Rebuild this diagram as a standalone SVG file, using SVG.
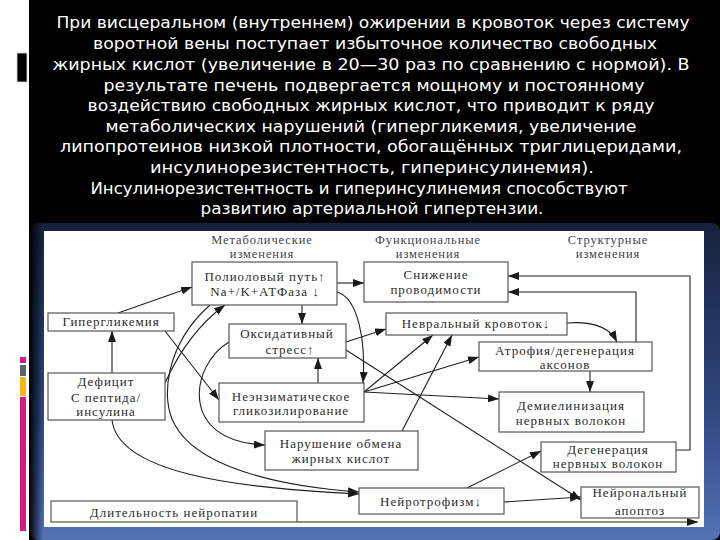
<svg xmlns="http://www.w3.org/2000/svg" width="720" height="540" viewBox="0 0 720 540">
<defs>
<linearGradient id="frameG" x1="0" y1="0" x2="0" y2="1">
<stop offset="0" stop-color="#16213d"/>
<stop offset="0.6" stop-color="#2f4880"/>
<stop offset="1" stop-color="#5272b4"/>
</linearGradient>
<linearGradient id="leftShade" x1="0" y1="0" x2="1" y2="0">
<stop offset="0" stop-color="#000" stop-opacity="1"/>
<stop offset="1" stop-color="#000" stop-opacity="0"/>
</linearGradient>
<marker id="ah" viewBox="0 0 11 8" refX="11" refY="4" markerWidth="11" markerHeight="8" markerUnits="userSpaceOnUse" orient="auto">
<path d="M0,0 L11,4 L0,8 Z" fill="#1a1a1a"/>
</marker>
<style>
.top{font-family:"DejaVu Sans","Open Sans",sans-serif;font-size:16px;fill:#fff;text-anchor:middle}
.box{fill:#fff;stroke:#555;stroke-width:1.2}
.t{font-family:"Liberation Serif","Times New Roman",serif;font-size:13px;fill:#2b2b2b;text-anchor:middle;letter-spacing:1px}
.h{font-family:"Liberation Serif","Times New Roman",serif;font-size:12.5px;fill:#444;text-anchor:middle;letter-spacing:0.9px}
.c{fill:none;stroke:#1f1f1f;stroke-width:1.1}
.a{marker-end:url(#ah)}
</style>
</defs>
<rect x="0" y="0" width="720" height="540" fill="#fff"/>
<rect x="29" y="0" width="691" height="540" fill="#000"/>
<rect x="17" y="53" width="10" height="29" fill="#000" stroke="#d8d8d8" stroke-width="0.8"/>
<rect x="20" y="357" width="6" height="6" fill="#d81b7a"/>
<rect x="20" y="365" width="6" height="11" fill="#5a6470"/>
<rect x="20" y="377" width="6" height="19" fill="#f5b81c"/>
<rect x="20" y="397" width="6" height="134" fill="#d81b7a"/>

<g id="top-text">
<text class="top" x="373" y="28" textLength="633" lengthAdjust="spacingAndGlyphs">При висцеральном (внутреннем) ожирении в кровоток через систему</text>
<text class="top" x="375" y="49" textLength="564" lengthAdjust="spacingAndGlyphs">воротной вены поступает избыточное количество свободных</text>
<text class="top" x="371" y="70" textLength="637" lengthAdjust="spacingAndGlyphs">жирных кислот (увеличение в 20—30 раз по сравнению с нормой). В</text>
<text class="top" x="374" y="91" textLength="541" lengthAdjust="spacingAndGlyphs">результате печень подвергается мощному и постоянному</text>
<text class="top" x="371" y="111" textLength="567" lengthAdjust="spacingAndGlyphs">воздействию свободных жирных кислот, что приводит к ряду</text>
<text class="top" x="371" y="132" textLength="531" lengthAdjust="spacingAndGlyphs">метаболических нарушений (гипергликемия, увеличение</text>
<text class="top" x="371" y="152" textLength="622" lengthAdjust="spacingAndGlyphs">липопротеинов низкой плотности, обогащённых триглицеридами,</text>
<text class="top" x="372" y="173" textLength="444" lengthAdjust="spacingAndGlyphs">инсулинорезистентность, гиперинсулинемия).</text>
<text class="top" x="359" y="194" textLength="537" lengthAdjust="spacingAndGlyphs">Инсулинорезистентность и гиперинсулинемия способствуют</text>
<text class="top" x="372" y="214" textLength="343" lengthAdjust="spacingAndGlyphs">развитию артериальной гипертензии.</text>
</g>

<g id="frame">
<rect x="30" y="223" width="690" height="317" rx="8" fill="url(#frameG)"/>
<rect x="29" y="223" width="14" height="317" fill="url(#leftShade)"/>
<rect x="44" y="231" width="660" height="296" fill="#fff"/>
</g>

<g id="headers">
<text class="h" x="262" y="244">Метаболические</text>
<text class="h" x="262" y="258">изменения</text>
<text class="h" x="428" y="244">Функциональные</text>
<text class="h" x="428" y="258">изменения</text>
<text class="h" x="608" y="244">Структурные</text>
<text class="h" x="608" y="258">изменения</text>
</g>

<g id="connectors">
<path class="c a" d="M118,313 L192,287"/>
<path class="c a" d="M337,283 L364,283"/>
<path class="c a" d="M302,305 L302,324"/>
<path class="c a" d="M112,373 L112,331"/>
<path class="c a" d="M165,383 Q188,332 225,305"/>
<path class="c a" d="M337,292 C358,298 366,340 363,383"/>
<path class="c a" d="M346,342 L386,329"/>
<path class="c a" d="M346,350 L581,500"/>
<path class="c a" d="M318,383 L318,358"/>
<path class="c a" d="M165,331 L219,400"/>
<path class="c a" d="M364,392 L433,335"/>
<path class="c a" d="M364,392 L479,357"/>
<path class="c a" d="M364,392 L499,399"/>
<path class="c a" d="M402,431 L452,335"/>
<path class="c a" d="M567,323 Q606,320 617,342"/>
<path class="c a" d="M636,342 L636,292 L508,292"/>
<path class="c a" d="M676,450 L690,450 L690,276 L508,276"/>
<path class="c a" d="M590,371 L590,392"/>
<path class="c a" d="M467,488 L541,451"/>
<path class="c a" d="M504,502 L581,497"/>
<path class="c a" d="M297,522 L698,522"/>
<path class="c a" d="M112,420 C118,472 230,488 359,494"/>
<path class="c a" d="M210,305 C165,345 160,400 175,425 C195,462 262,485 359,492"/>
<path class="c a" d="M229,342 C190,365 178,442 265,445"/>
</g>

<g id="n-poliol"><rect class="box" x="192" y="262" width="145" height="43"/>
<text class="t" x="265" y="281">Полиоловый путь↑</text><text class="t" x="265" y="296">Na+/K+АТФаза ↓</text></g>
<g id="n-snizh"><rect class="box" x="364" y="262" width="144" height="40"/>
<text class="t" x="436" y="279">Снижение</text><text class="t" x="436" y="294">проводимости</text></g>
<g id="n-hyper"><rect class="box" x="48" y="313" width="126" height="18"/>
<text class="t" x="111" y="326">Гипергликемия</text></g>
<g id="n-oxid"><rect class="box" x="229" y="324" width="117" height="34"/>
<text class="t" x="287" y="338">Оксидативный</text><text class="t" x="290" y="354">стресс↑</text></g>
<g id="n-nevr"><rect class="box" x="386" y="313" width="181" height="22"/>
<text class="t" x="476" y="328">Невральный кровоток↓</text></g>
<g id="n-atrof"><rect class="box" x="479" y="342" width="173" height="29"/>
<text class="t" x="565" y="355">Атрофия/дегенерация</text><text class="t" x="565" y="369">аксонов</text></g>
<g id="n-defic"><rect class="box" x="48" y="373" width="117" height="47"/>
<text class="t" x="106" y="386">Дефицит</text><text class="t" x="106" y="402">С пептида/</text><text class="t" x="106" y="416">инсулина</text></g>
<g id="n-neenz"><rect class="box" x="219" y="383" width="145" height="39"/>
<text class="t" x="291" y="401">Неэнзиматическое</text><text class="t" x="291" y="415">гликозилирование</text></g>
<g id="n-demiel"><rect class="box" x="499" y="392" width="145" height="40"/>
<text class="t" x="571" y="410">Демиелинизация</text><text class="t" x="571" y="425">нервных волокон</text></g>
<g id="n-narush"><rect class="box" x="265" y="431" width="153" height="39"/>
<text class="t" x="341" y="448">Нарушение обмена</text><text class="t" x="341" y="463">жирных кислот</text></g>
<g id="n-degen"><rect class="box" x="541" y="442" width="135" height="30"/>
<text class="t" x="608" y="454">Дегенерация</text><text class="t" x="608" y="468">нервных волокон</text></g>
<g id="n-neurotr"><rect class="box" x="359" y="488" width="145" height="26"/>
<text class="t" x="431" y="506">Нейротрофизм↓</text></g>
<g id="n-apopt"><rect class="box" x="581" y="487" width="118" height="31"/>
<text class="t" x="640" y="497">Нейрональный</text><text class="t" x="640" y="515">апоптоз</text></g>
<g id="n-dlit"><rect class="box" x="51" y="501" width="246" height="21"/>
<text class="t" x="174" y="517">Длительность нейропатии</text></g>
</svg>
